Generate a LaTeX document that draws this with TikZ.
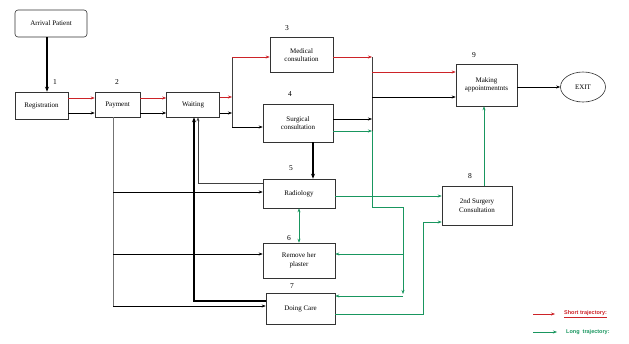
\documentclass[tikz,border=0pt]{standalone}
\usepackage{fontspec}
\setmainfont{Liberation Serif}
\newfontfamily\legfont{Liberation Sans}
\usetikzlibrary{arrows.meta,shapes.geometric}
\definecolor{tred}{RGB}{205,35,40}
\definecolor{tgreen}{RGB}{25,150,95}
\begin{document}
\begin{tikzpicture}[x=1pt,y=-1pt,
  box/.style={draw=black!80,line width=0.6pt,inner sep=1pt,align=center,font=\fontsize{7}{8.5}\selectfont},
  num/.style={font=\fontsize{7.5}{8}\selectfont,inner sep=0pt},
  ar/.style={-{Stealth[length=4pt,width=3pt]},line width=0.5pt},
  thin/.style={line width=0.5pt},
  thick2/.style={-{Stealth[length=5pt,width=4pt]},line width=1.6pt}]
\useasboundingbox (0,0) rectangle (629,343);
% boxes
\node[box,rounded corners=3pt,minimum width=72pt,minimum height=27pt] (arr) at (51,23.5) {Arrival Patient};
\node[box,minimum width=53pt,minimum height=27pt] (reg) at (41.5,105.5) {Registration};
\node[box,minimum width=45pt,minimum height=25pt] (pay) at (117.5,104.5) {Payment};
\node[box,minimum width=53pt,minimum height=25pt] (wait) at (193,104.5) {Waiting};
\node[box,minimum width=63pt,minimum height=35pt] (med) at (301.5,55) {Medical\\consultation};
\node[box,minimum width=70pt,minimum height=38pt] (surg) at (298,123) {Surgical\\consultation};
\node[box,minimum width=72pt,minimum height=29pt] (rad) at (299,193.5) {Radiology};
\node[box,minimum width=72pt,minimum height=35pt] (rem) at (299,260.5) {Remove her\\plaster};
\node[box,minimum width=69pt,minimum height=31pt] (care) at (300.5,308.5) {Doing Care};
\node[box,minimum width=70pt,minimum height=39pt] (sec) at (477,205.5) {2nd Surgery\\Consultation};
\node[box,minimum width=61pt,minimum height=42pt] (mak) at (486.5,85) {Making\\appointmentnts};
\node[box,ellipse,minimum width=45pt,minimum height=30pt,inner sep=0pt] (exit) at (583,87) {EXIT};
% numbers
\node[num] (n1) at (55,82) {1};
\node[num] (n2) at (117,82) {2};
\node[num] (n3) at (287,28) {3};
\node[num] (n4) at (290,94) {4};
\node[num] (n5) at (291,168) {5};
\node[num] (n6) at (289,238) {6};
\node[num] (n7) at (292,286) {7};
\node[num] (n8) at (470,176) {8};
\node[num] (n9) at (474,55) {9};
% arrival -> registration
\draw[thick2] (arr.south -| 47,0) -- (reg.north -| 47,0);
% registration -> payment
\draw[ar,tred] (reg.east |- 0,98) -- (pay.west |- 0,98);
\draw[ar] (reg.east |- 0,113) -- (pay.west |- 0,113);
% payment -> waiting
\draw[ar,tred] (pay.east |- 0,98) -- (wait.west |- 0,98);
\draw[ar] (pay.east |- 0,113) -- (wait.west |- 0,113);
% waiting branch
\coordinate (wb) at (232,97);
\coordinate (wbt) at (232,57);
\coordinate (wbb) at (232,127);
\draw[ar,tred] (wait.east |- wb) -- (wb);
\draw[ar] (wait.east |- 0,113) -- (232,113);
\draw[thin,black!75] (wbt) -- (wbb);
\draw[ar,tred] (wbt) -- (med.west |- wbt);
\draw[ar] (wbb) -- (surg.west |- wbb);
% right collector
\coordinate (ct) at (372,57);
\coordinate (cm) at (372,131);
\coordinate (cb) at (372,207);
\draw[ar,tred] (med.east |- ct) -- (ct);
\draw[ar] (surg.east |- 0,119) -- (372,119);
\draw[ar,tgreen] (surg.east |- cm) -- (cm);
\draw[thin,black!75] (ct) -- (cm);
\draw[thin,tgreen] (cm) -- (cb);
\draw[ar,tred] (372,72) -- (mak.west |- 0,72);
\draw[ar] (372,97) -- (mak.west |- 0,97);
% green distribution
\draw[ar,tgreen] (cb) -- (403,207) -- (403,294);
\draw[ar,tgreen] (403,254) -- (rem.east |- 0,254);
\draw[ar,tgreen] (403,296) -- (care.east |- 0,296);
% surgical -> radiology
\draw[thick2] (surg.south -| 313,0) -- (rad.north -| 313,0);
% radiology -> waiting
\draw[ar,black!75] (rad.west |- 0,183) -| (wait.south -| 198,0);
% doing care -> waiting (thick)
\draw[thick2] (care.west |- 0,301) -| (wait.south -| 194,0);
% payment distribution
\draw[thin,black!55] (pay.south -| 113,0) -- (113,306);
\draw[ar] (113,192) -- (rad.west |- 0,192);
\draw[ar] (113,254) -- (rem.west |- 0,254);
\draw[ar] (113,306) -- (care.west |- 0,306);
% radiology <-> plaster
\draw[{Stealth[length=4pt,width=3pt]}-{Stealth[length=4pt,width=3pt]},thin,tgreen] (rad.south -| 299,0) -- (rem.north -| 299,0);
% to 2nd surgery
\draw[ar,tgreen] (rad.east |- 0,196) -- (sec.west |- 0,196);
\draw[ar,tgreen] (care.east |- 0,314) -- (423,314) -- (423,222) -- (sec.west |- 0,222);
% 2nd surgery -> making
\draw[ar,tgreen] (sec.north -| 484,0) -- (mak.south -| 484,0);
% making -> exit
\draw[ar] (mak.east |- exit.west) -- (exit.west);
% legend
\coordinate (l1a) at (533,314);
\coordinate (l2a) at (533,332);
\node[anchor=west,inner sep=0pt,text=tred,font=\legfont\bfseries\fontsize{5.5}{6}\selectfont] (leg1) at (564,314) {\underline{Short trajectory:}};
\node[anchor=west,inner sep=0pt,text=tgreen,font=\legfont\bfseries\fontsize{5.5}{6}\selectfont] (leg2) at (566,332) {Long\ \ trajectory:};
\draw[ar,tred] (l1a) -- (555,314);
\draw[ar,tgreen] (l2a) -- (557,332);
\end{tikzpicture}
\end{document}
